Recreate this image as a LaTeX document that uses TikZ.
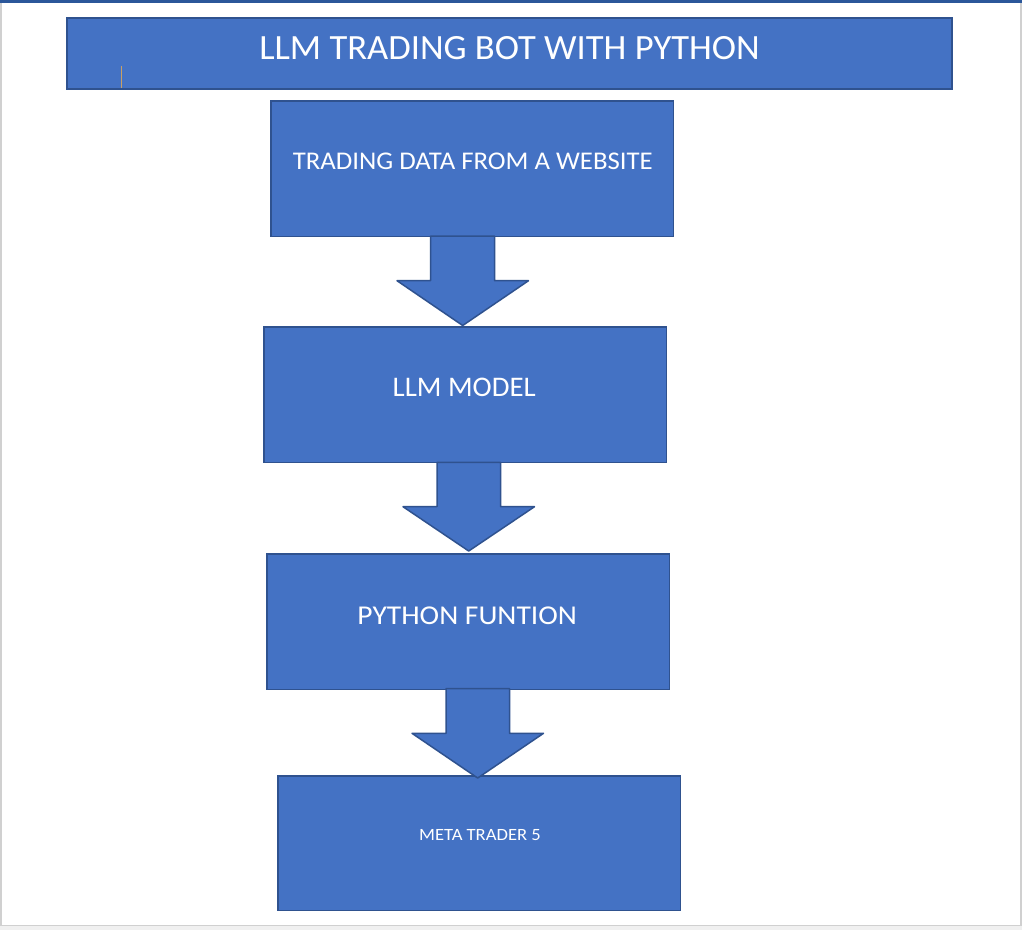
\documentclass[tikz,border=0pt]{standalone}
\usepackage{fontspec}
\setmainfont{Carlito}
\usepackage{graphicx}
\definecolor{boxfill}{HTML}{4472C4}
\definecolor{boxline}{HTML}{2F528F}
\definecolor{topbar}{HTML}{2B579A}
\definecolor{frameline}{HTML}{D0D0D0}
\definecolor{footer}{HTML}{F0F0F0}
\definecolor{cursorcol}{HTML}{C8A064}
\begin{document}
\begin{tikzpicture}[x=1pt,y=-1pt,
  box/.style={draw=boxline, fill=boxfill, line width=1.5pt, rectangle, inner sep=0pt, minimum width=402.5pt, minimum height=135.5pt},
  blockarrow/.style={draw=boxline, fill=boxfill, line width=1.5pt, line join=round},
  label/.style={text=white, inner sep=0pt, anchor=base}]
\useasboundingbox (0,0) rectangle (1022,930);
\fill[white] (0,0) rectangle (1022,930);
\fill[footer] (0,926) rectangle (1022,930);
\draw[frameline, line width=1.5pt] (1,2) -- (1,925.5) -- (1020.8,925.5) -- (1020.8,2);
\fill[topbar] (0,0) rectangle (1022,2.7);

% title
\node[box, line width=2pt, minimum width=885pt, minimum height=71.3pt] (title) at (509.5,53.65) {};
\draw[cursorcol, line width=0.8pt] (121.3,66) -- (121.3,87.7);
\node[label, font=\fontsize{35.5}{40}\selectfont] (titletext) at (509.5,59.3) {\scalebox{1.03}[1]{LLM TRADING BOT WITH PYTHON}};

% boxes
\node[box] (data) at (472,168.5) {};
\node[box] (llm) at (465,394.5) {};
\node[box] (func) at (468,621.5) {};
\node[box, minimum height=134.5pt] (mt) at (479,843) {};

\node[label, font=\fontsize{25.5}{30}\selectfont] (datatext) at (472.8,169) {\scalebox{1.05}[1]{TRADING DATA FROM A WEBSITE}};
\node[label, font=\fontsize{28.4}{34}\selectfont] (llmtext) at (464.2,396.7) {\scalebox{1.015}[1]{LLM MODEL}};
\node[label, font=\fontsize{27.2}{32}\selectfont] (functext) at (467.2,624) {\scalebox{1.085}[1]{PYTHON FUNTION}};
\node[label, font=\fontsize{17.2}{20}\selectfont] (mttext) at (480,840.7) {\scalebox{1.08}[1]{META TRADER 5}};

% block arrows
\draw[blockarrow] (430.5,236) -- (494.5,236) -- (494.5,280.7) -- (528.5,280.7) -- (462.7,325.5) -- (397,280.7) -- (430.5,280.7) -- cycle;
\draw[blockarrow] (437,462.3) -- (500.5,462.3) -- (500.5,506.7) -- (534.5,506.7) -- (468.7,551) -- (403,506.7) -- (437,506.7) -- cycle;
\draw[blockarrow] (446,688.5) -- (509.5,688.5) -- (509.5,733.3) -- (543.5,733.3) -- (477.7,778) -- (412,733.3) -- (446,733.3) -- cycle;
\end{tikzpicture}
\end{document}
